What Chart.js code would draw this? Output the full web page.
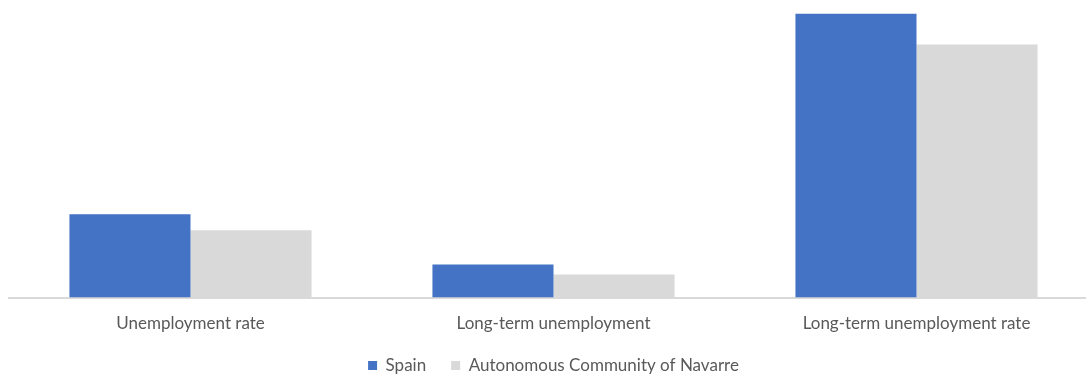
<!DOCTYPE html>
<html>
<head>
<meta charset="utf-8">
<script src="https://cdn.jsdelivr.net/npm/chart.js@4/dist/chart.umd.min.js"></script>
<style>
  html, body { margin: 0; padding: 0; background: #fff; overflow: hidden; }
  #wrap { width: 1100px; height: 384px; position: relative; }
</style>
</head>
<body>
<div id="wrap"><canvas id="c"></canvas></div>
<script>
const categories = ["Unemployment rate", "Long-term unemployment", "Long-term unemployment rate"];
const spain = [14.1, 5.6, 48.0];
const navarre = [11.4, 3.9, 42.8];
const seriesNames = ["Spain", "Autonomous Community of Navarre"];

const textColor = "#595959";
const fontFamily = "Lato, 'Open Sans', sans-serif";

new Chart(document.getElementById("c"), {
  type: "bar",
  data: {
    labels: categories,
    datasets: [
      { label: seriesNames[0], data: spain, backgroundColor: "#4472c4", borderWidth: 0 },
      { label: seriesNames[1], data: navarre, backgroundColor: "#d9d9d9", borderWidth: 0 }
    ]
  },
  options: {
    responsive: true,
    maintainAspectRatio: false,
    animation: false,
    layout: { padding: { left: 9, right: 2, top: 2, bottom: 0 } },
    datasets: { bar: { categoryPercentage: 0.667, barPercentage: 1.0 } },
    plugins: {
      legend: {
        position: "bottom",
        labels: {
          color: textColor,
          font: { family: fontFamily, size: 17 },
          boxWidth: 9,
          boxHeight: 9,
          padding: 25
        }
      },
      tooltip: { enabled: false }
    },
    scales: {
      x: {
        grid: { display: false },
        border: { display: true, color: "#d9d9d9", width: 2 },
        ticks: { color: textColor, font: { family: fontFamily, size: 17 }, padding: 8 },
        // tighten the space reserved under the category labels
        afterFit: (scale) => { scale.height -= 10; }
      },
      y: {
        display: false,
        min: 0,
        max: 50
      }
    }
  }
});
</script>
</body>
</html>
